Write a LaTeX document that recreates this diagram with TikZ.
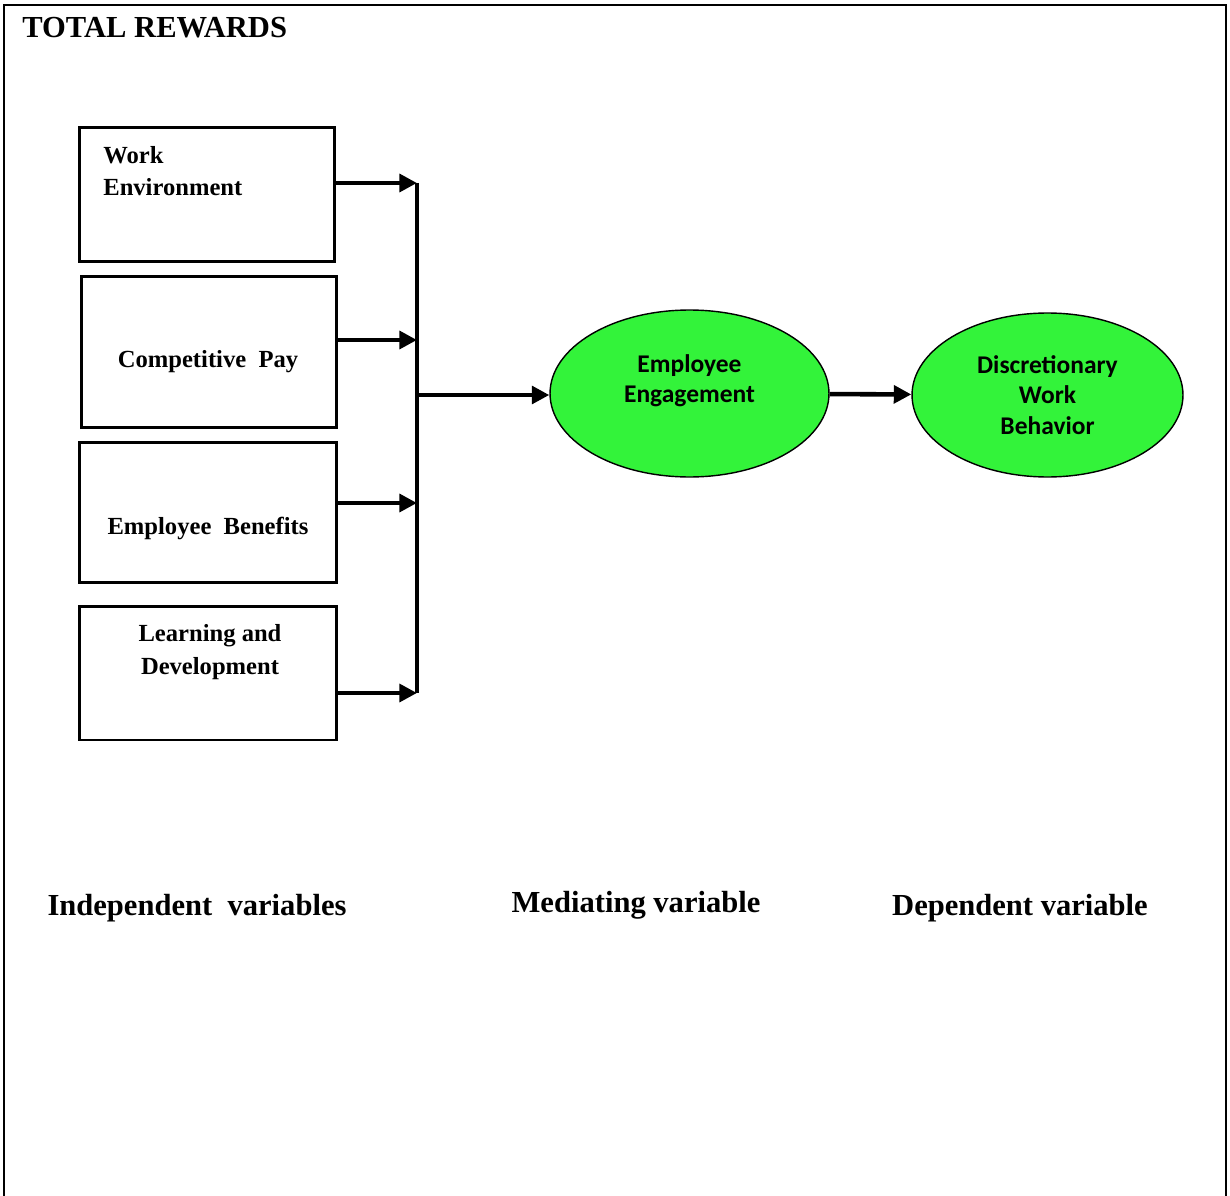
\documentclass[tikz,border=0pt]{standalone}
\usepackage{fontspec}
\setmainfont{Liberation Serif}
\newfontfamily\calfont{Carlito}
\usepackage{tikz}
\usetikzlibrary{arrows.meta,positioning,shapes.geometric}
\definecolor{Engage}{HTML}{33F33A}

\begin{document}
\begin{tikzpicture}[x=0.02cm,y=-0.02cm,
  font=\fontsize{14}{18.5}\selectfont\bfseries,
  >={Triangle[length=10pt,width=10pt]},
  var/.style={draw,line width=1.7pt,minimum width=5.12cm},
  vtext/.style={inner sep=0pt,align=center},
  oval/.style={ellipse,draw,line width=0.8pt,fill=Engage,align=center,
    font=\calfont\fontsize{14.5}{17.3}\selectfont\bfseries},
  flow/.style={->,line width=2.6pt},
  heading/.style={font=\fontsize{17.4}{20}\selectfont\bfseries}]
  \useasboundingbox (0,0) rectangle (1230,1196);
  % outer frame, open at the bottom
  \draw[line width=1.1pt] (4,1200) -- (4,5) -- (1226,5) -- (1226,1200);
  \node[heading,anchor=west,inner sep=0pt] (title) at (22,28) {TOTAL REWARDS};

  % independent variables
  \node[var,minimum height=2.7cm] (bWork) at (207,194.5) {};
  \node[var,minimum height=3.04cm] (bPay) at (209,352) {};
  \node[var,minimum height=2.82cm,minimum width=5.16cm] (bBenefit) at (208,512.5) {};
  \node[var,minimum height=2.68cm,minimum width=5.16cm] (bLearn) at (208,673) {};
  \node[vtext,align=left,anchor=west] (tWork) at (103,171) {Work\\Environment};
  \node[vtext] (tPay) at (208,362) {Competitive\ \ Pay};
  \node[vtext] (tBenefit) at (208,528) {Employee\ \ Benefits};
  \node[vtext] (tLearn) at (210,652) {Learning and\\Development};

  \foreach \b/\y in {bWork/183,bPay/340,bBenefit/503,bLearn/693} {
    \coordinate (j-\b) at (417,\y);
    \draw[flow] (\b.east |- j-\b) -- (j-\b);
  }
  \draw[line width=2.6pt] (j-bWork) -- (j-bLearn);
  \coordinate (hub) at (417,395);

  % mediating and dependent variable
  \node[oval,minimum width=5.58cm,minimum height=3.34cm] (eEngage) at (689.5,393.5)
    {Employee\\Engagement\\\mbox{}};
  \node[oval,minimum width=5.42cm,minimum height=3.28cm] (eBehav) at (1047.5,395)
    {Discretionary\\Work\\Behavior};
  \draw[flow] (hub) -- (hub -| eEngage.west);
  \draw[flow] (eEngage) -- (eBehav);

  \node[heading] (lIndep) at (197,908) {Independent\ \ variables};
  \node[heading] (lMed) at (636,905) {Mediating variable};
  \node[heading] (lDep) at (1020,908) {Dependent variable};
\end{tikzpicture}
\end{document}
